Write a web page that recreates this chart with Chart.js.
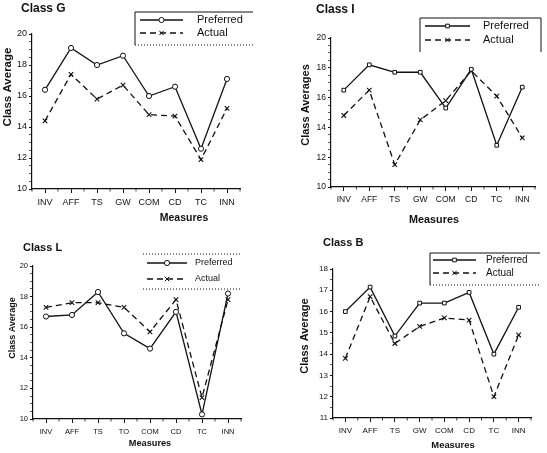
<!DOCTYPE html>
<html>
<head>
<meta charset="utf-8">
<script src="https://cdn.jsdelivr.net/npm/chart.js@4.4.1/dist/chart.umd.min.js"></script>
<style>
    html, body { margin: 0; padding: 0; background: #fff; }
    #page { position: relative; width: 547px; height: 453px; overflow: hidden; background: #fff; }
    .panel { position: absolute; }
</style>
</head>
<body>
<div id="page"></div>
<script>
// Dados de cada turma
const measuresG = ['INV', 'AFF', 'TS', 'GW', 'COM', 'CD', 'TC', 'INN'];
const preferredG = [16.4, 19.1, 18.0, 18.6, 16.0, 16.6, 12.6, 17.1];
const actualG = [14.4, 17.4, 15.8, 16.7, 14.8, 14.7, 11.9, 15.2];

const measuresI = ['INV', 'AFF', 'TS', 'GW', 'COM', 'CD', 'TC', 'INN'];
const preferredI = [16.5, 18.2, 17.7, 17.7, 15.3, 17.9, 12.8, 16.7];
const actualI = [14.8, 16.5, 11.5, 14.5, 15.8, 17.8, 16.1, 13.3];

const measuresL = ['INV', 'AFF', 'TS', 'TO', 'COM', 'CD', 'TC', 'INN'];
const preferredL = [16.7, 16.8, 18.3, 15.6, 14.6, 17.0, 10.3, 18.2];
const actualL = [17.3, 17.6, 17.6, 17.3, 15.7, 17.8, 11.4, 17.8];

const measuresB = ['INV', 'AFF', 'TS', 'GW', 'COM', 'CD', 'TC', 'INN'];
const preferredB = [16.0, 17.15, 14.85, 16.4, 16.4, 16.9, 14.0, 16.2];
const actualB = [13.8, 16.7, 14.5, 15.3, 15.7, 15.6, 12.0, 14.9];

// Eixo Y: [min, max, passo dos rótulos]
const yAxisG = [10, 20, 2];
const yAxisI = [10, 20, 2];
const yAxisL = [10, 20, 2];
const yAxisB = [11, 18, 1];

const FONT = "'Liberation Sans', Arial, Helvetica, sans-serif";
const INK = '#111';

// Posições de cada painel (px, relativas ao painel)
const panels = [
    {
        title: 'Class G', yTitle: 'Class Average',
        measures: measuresG, preferred: preferredG, actual: actualG, yAxis: yAxisG,
        box: { x: 0, y: 0, w: 273, h: 226 },
        area: { left: 32, right: 240, top: 34, bottom: 189 },
        marker: 'circle', tickSize: 9,
        titlePos: { x: 21, y: 9, size: 12 },
        yTitlePos: { x: 8, y: 87, size: 11.5 },
        xTitlePos: { x: 184, y: 218, size: 10.5 },
        legend: { x: 135, y: 12, w: 118, h: 33, rows: [20, 33], line: [140, 183], textX: 197, size: 11,
                  solid: ['top', 'left'], dotted: ['bottom'] }
    },
    {
        title: 'Class I', yTitle: 'Class Averages',
        measures: measuresI, preferred: preferredI, actual: actualI, yAxis: yAxisI,
        box: { x: 273, y: 0, w: 274, h: 226 },
        area: { left: 58, right: 262, top: 38, bottom: 187 },
        marker: 'rect', tickSize: 8.5,
        titlePos: { x: 43, y: 10, size: 12 },
        yTitlePos: { x: 33, y: 105, size: 11 },
        xTitlePos: { x: 161, y: 220, size: 10.8 },
        legend: { x: 147, y: 18, w: 121, h: 34, rows: [26, 40], line: [152, 197], textX: 210, size: 11,
                  solid: ['top', 'left', 'right'], dotted: [] }
    },
    {
        title: 'Class L', yTitle: 'Class Average',
        measures: measuresL, preferred: preferredL, actual: actualL, yAxis: yAxisL,
        box: { x: 0, y: 226, w: 273, h: 227 },
        area: { left: 33, right: 241, top: 40, bottom: 193 },
        marker: 'circle', tickSize: 7.5,
        titlePos: { x: 23, y: 22, size: 11 },
        yTitlePos: { x: 13, y: 102, size: 9 },
        xTitlePos: { x: 150, y: 217, size: 9.2 },
        legend: { x: 143, y: 28, w: 99, h: 35, rows: [37, 53], line: [147, 187], textX: 195, size: 9,
                  solid: [], dotted: ['top', 'bottom'] }
    },
    {
        title: 'Class B', yTitle: 'Class Average',
        measures: measuresB, preferred: preferredB, actual: actualB, yAxis: yAxisB,
        box: { x: 273, y: 226, w: 274, h: 227 },
        area: { left: 60, right: 258, top: 43, bottom: 192 },
        marker: 'rect', tickSize: 8,
        titlePos: { x: 50, y: 17, size: 11 },
        yTitlePos: { x: 32, y: 110, size: 11 },
        xTitlePos: { x: 180, y: 219, size: 9.4 },
        legend: { x: 157, y: 27, w: 110, h: 32, rows: [34, 47], line: [160, 203], textX: 213, size: 10,
                  solid: ['top', 'left'], dotted: ['bottom'] }
    }
];

/**
 * Plugin que desenha título, legenda e títulos dos eixos do painel
 */
function makeDecor(p) {
    const strokeSide = (ctx, lg, side, dash) => {
        ctx.setLineDash(dash);
        ctx.beginPath();
        if (side === 'top') { ctx.moveTo(lg.x, lg.y); ctx.lineTo(lg.x + lg.w, lg.y); }
        if (side === 'bottom') { ctx.moveTo(lg.x, lg.y + lg.h); ctx.lineTo(lg.x + lg.w, lg.y + lg.h); }
        if (side === 'left') { ctx.moveTo(lg.x, lg.y); ctx.lineTo(lg.x, lg.y + lg.h); }
        if (side === 'right') { ctx.moveTo(lg.x + lg.w, lg.y); ctx.lineTo(lg.x + lg.w, lg.y + lg.h); }
        ctx.stroke();
    };

    return {
        id: 'panelDecor',
        afterDraw(chart) {
            const ctx = chart.ctx;
            const lg = p.legend;
            const xScale = chart.scales.x;
            ctx.save();
            ctx.fillStyle = INK;
            ctx.strokeStyle = INK;
            ctx.textBaseline = 'middle';

            // Marcas menores do eixo X, entre as categorias
            ctx.lineWidth = 0.8;
            ctx.beginPath();
            for (let i = 0; i <= p.measures.length; i++) {
                const x = xScale.getPixelForValue(i - 0.5);
                ctx.moveTo(x, xScale.top);
                ctx.lineTo(x, xScale.top + 2.5);
            }
            ctx.stroke();

            // Título do painel
            ctx.font = `bold ${p.titlePos.size}px ${FONT}`;
            ctx.textAlign = 'left';
            ctx.fillText(p.title, p.titlePos.x, p.titlePos.y);

            // Título do eixo X
            ctx.font = `bold ${p.xTitlePos.size}px ${FONT}`;
            ctx.textAlign = 'center';
            ctx.fillText('Measures', p.xTitlePos.x, p.xTitlePos.y);

            // Título do eixo Y (rotacionado)
            ctx.save();
            ctx.translate(p.yTitlePos.x, p.yTitlePos.y);
            ctx.rotate(-Math.PI / 2);
            ctx.font = `bold ${p.yTitlePos.size}px ${FONT}`;
            ctx.fillText(p.yTitle, 0, 0);
            ctx.restore();

            // Moldura da legenda
            ctx.lineWidth = 1;
            lg.solid.forEach(side => strokeSide(ctx, lg, side, []));
            lg.dotted.forEach(side => strokeSide(ctx, lg, side, [1, 2]));

            // Itens da legenda
            chart.data.datasets.forEach((ds, i) => {
                const y = lg.rows[i];
                ctx.setLineDash(ds.borderDash || []);
                ctx.lineWidth = ds.borderWidth;
                ctx.beginPath();
                ctx.moveTo(lg.line[0], y);
                ctx.lineTo(lg.line[1], y);
                ctx.stroke();
                ctx.setLineDash([]);
                ctx.lineWidth = 1;
                ctx.fillStyle = '#fff';
                Chart.helpers.drawPoint(ctx, {
                    pointStyle: ds.pointStyle,
                    radius: ds.pointRadius,
                    rotation: 0,
                    borderWidth: 1
                }, (lg.line[0] + lg.line[1]) / 2, y);
                ctx.fillStyle = INK;
                ctx.font = `${lg.size}px ${FONT}`;
                ctx.textAlign = 'left';
                ctx.fillText(ds.label, lg.textX, y);
            });
            ctx.restore();
        }
    };
}

const page = document.getElementById('page');

panels.forEach(p => {
    const holder = document.createElement('div');
    holder.className = 'panel';
    holder.style.left = p.box.x + 'px';
    holder.style.top = p.box.y + 'px';
    holder.style.width = p.box.w + 'px';
    holder.style.height = p.box.h + 'px';
    const canvas = document.createElement('canvas');
    holder.appendChild(canvas);
    page.appendChild(holder);

    const [yMin, yMax, labelStep] = p.yAxis;
    const isLabelled = v => Math.round(v * 100) % Math.round(labelStep * 100) === 0;

    new Chart(canvas, {
        type: 'line',
        data: {
            labels: p.measures,
            datasets: [
                {
                    label: 'Preferred',
                    data: p.preferred,
                    borderColor: INK,
                    borderWidth: 1.3,
                    pointStyle: p.marker,
                    pointRadius: 2.6,
                    pointBackgroundColor: '#fff',
                    pointBorderColor: INK,
                    pointBorderWidth: 1,
                    tension: 0
                },
                {
                    label: 'Actual',
                    data: p.actual,
                    borderColor: INK,
                    borderWidth: 1.3,
                    borderDash: [6, 4],
                    pointStyle: 'crossRot',
                    pointRadius: 3.2,
                    pointBorderColor: INK,
                    pointBorderWidth: 1.1,
                    tension: 0
                }
            ]
        },
        options: {
            responsive: true,
            maintainAspectRatio: false,
            animation: false,
            layout: {
                padding: { left: 0, top: p.area.top, right: p.box.w - p.area.right, bottom: 0 }
            },
            plugins: {
                legend: { display: false },
                title: { display: false },
                tooltip: { enabled: false }
            },
            scales: {
                x: {
                    offset: true,
                    afterFit: scale => { scale.height = p.box.h - p.area.bottom; },
                    border: { display: true, color: INK, width: 1.2 },
                    grid: { display: true, drawOnChartArea: false, offset: false, tickLength: 4, color: INK },
                    ticks: {
                        color: INK,
                        padding: 4,
                        maxRotation: 0,
                        autoSkip: false,
                        font: { family: FONT, size: p.tickSize }
                    }
                },
                y: {
                    min: yMin,
                    max: yMax,
                    afterFit: scale => { scale.width = p.area.left; },
                    border: { display: true, color: INK, width: 1.2 },
                    grid: {
                        display: true,
                        drawOnChartArea: false,
                        tickLength: 3,
                        color: INK,
                        tickWidth: c => (c.tick && isLabelled(c.tick.value) ? 1.1 : 0.7)
                    },
                    ticks: {
                        stepSize: 0.5,
                        autoSkip: false,
                        color: INK,
                        padding: 2,
                        font: { family: FONT, size: p.tickSize },
                        callback: v => (isLabelled(v) ? v : '')
                    }
                }
            }
        },
        plugins: [makeDecor(p)]
    });
});
</script>
</body>
</html>
